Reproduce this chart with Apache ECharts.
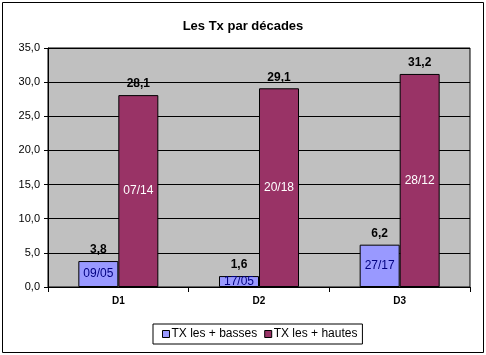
<!DOCTYPE html>
<html>
<head>
<meta charset="utf-8">
<script src="https://cdn.jsdelivr.net/npm/echarts@6/dist/echarts.min.js"></script>
<style>
html,body{margin:0;padding:0;background:#fff;}
#chart{width:486px;height:355px;}
</style>
</head>
<body>
<div id="chart"></div>
<script>
const categories = ['D1', 'D2', 'D3'];
const basses = [3.8, 1.6, 6.2];
const hautes = [28.1, 29.1, 31.2];
const bassesDates = ['09/05', '17/05', '27/17'];
const hautesDates = ['07/14', '20/18', '28/12'];
const yTicks = [0, 5, 10, 15, 20, 25, 30, 35];

const FONT = '"Liberation Sans", Arial, sans-serif';
const fmt = v => v.toFixed(1).replace('.', ',');

const chart = echarts.init(document.getElementById('chart'), null, {renderer: 'canvas'});
chart.setOption({
  animation: false,
  backgroundColor: '#ffffff',
  textStyle: {fontFamily: FONT},
  graphic: [{
    type: 'rect', shape: {x: 2.5, y: 2.5, width: 481, height: 350},
    style: {fill: 'none', stroke: '#000', lineWidth: 1}, silent: true, z: 100
  }],
  title: {
    text: 'Les Tx par décades', left: 'center', top: 15,
    textStyle: {fontFamily: FONT, fontSize: 13, fontWeight: 'bold', color: '#000'}
  },
  legend: {
    data: ['TX les + basses', 'TX les + hautes'],
    left: 153, top: 324,
    borderColor: '#000', borderWidth: 1, padding: [4, 5, 4, 9],
    itemWidth: 7, itemHeight: 7, itemGap: 7,
    icon: 'rect',
    itemStyle: {borderColor: '#000', borderWidth: 1},
    textStyle: {fontFamily: FONT, fontSize: 12, color: '#000', padding: [0, 0, 0, -3]}
  },
  grid: {
    left: 48, top: 48, right: 16, bottom: 68,
    show: true, backgroundColor: '#c0c0c0', borderColor: '#000', borderWidth: 1
  },
  xAxis: {
    type: 'category', data: categories,
    axisLine: {lineStyle: {color: '#000'}},
    axisTick: {show: true, alignWithLabel: false, length: 5, lineStyle: {color: '#000'}},
    axisLabel: {fontFamily: FONT, fontSize: 10, fontWeight: 'bold', color: '#000', margin: 9}
  },
  yAxis: {
    type: 'value', min: yTicks[0], max: yTicks[yTicks.length - 1], interval: 5,
    axisLine: {show: true, lineStyle: {color: '#000'}},
    axisTick: {show: true, length: 4, lineStyle: {color: '#000'}},
    splitLine: {show: true, lineStyle: {color: '#000', width: 1}},
    axisLabel: {fontFamily: FONT, fontSize: 11, color: '#000', margin: 8, formatter: v => fmt(v)}
  },
  series: [
    {
      name: 'TX les + basses', type: 'bar', stack: 'b', data: basses,
      barWidth: 40, barGap: '0%',
      itemStyle: {color: '#9999ff', borderColor: '#000', borderWidth: 1},
      label: {show: true, position: 'inside', fontFamily: FONT, fontSize: 12, color: '#000080',
        formatter: p => bassesDates[p.dataIndex]}
    },
    {
      name: 'bTop', type: 'bar', stack: 'b', data: basses.map(() => 0),
      barWidth: 40, barGap: '0%',
      itemStyle: {color: 'rgba(0,0,0,0)', borderWidth: 0},
      label: {show: true, position: 'top', distance: 5, fontFamily: FONT, fontSize: 12, fontWeight: 'bold', color: '#000',
        formatter: p => fmt(basses[p.dataIndex])}
    },
    {
      name: 'TX les + hautes', type: 'bar', stack: 'h', data: hautes,
      barWidth: 40, barGap: '0%',
      itemStyle: {color: '#993366', borderColor: '#000', borderWidth: 1},
      label: {show: true, position: 'inside', fontFamily: FONT, fontSize: 12, color: '#ffffff',
        formatter: p => hautesDates[p.dataIndex]}
    },
    {
      name: 'hTop', type: 'bar', stack: 'h', data: hautes.map(() => 0),
      barWidth: 40, barGap: '0%',
      itemStyle: {color: 'rgba(0,0,0,0)', borderWidth: 0},
      label: {show: true, position: 'top', distance: 5, fontFamily: FONT, fontSize: 12, fontWeight: 'bold', color: '#000',
        formatter: p => fmt(hautes[p.dataIndex])}
    }
  ]
});
</script>
</body>
</html>
